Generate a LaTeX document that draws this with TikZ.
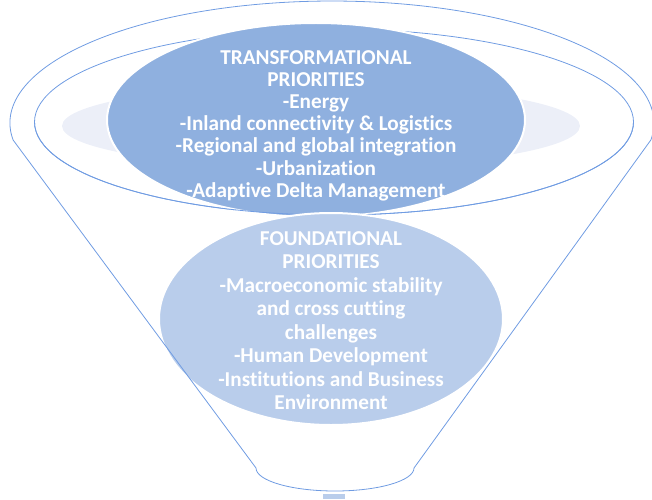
\documentclass[tikz,border=0pt]{standalone}
\usepackage{fontspec}
\setmainfont{Carlito}[Ligatures=CommonOff]
\usetikzlibrary{shapes.geometric}
\definecolor{rimBlue}{RGB}{112,156,226}
\definecolor{topBlue}{RGB}{143,176,223}
\definecolor{baseBlue}{RGB}{185,205,235}
\definecolor{glowGrey}{RGB}{236,239,248}
\tikzset{fnlRim/.style={draw=rimBlue,line width=0.8pt},
 fnlDisc/.style={ellipse,draw=white,line width=2pt,inner sep=0pt},
 fnlText/.style={text=white,font=\bfseries\fontsize{21.2}{22.2}\selectfont,align=center,inner sep=0pt}}

\begin{document}
\begin{tikzpicture}[x=1pt,y=1pt]
\useasboundingbox (0,0) rectangle (652,499);
% soft glow behind the top disc
\node[ellipse,fill=glowGrey,minimum width=518pt,minimum height=84pt,inner sep=0pt] (glow) at (321,373) {};
% inner rim of the funnel mouth
\draw[fnlRim] (334,377) ellipse[x radius=299.5,y radius=93];
\node[fnlDisc,fill=topBlue,minimum width=418pt,minimum height=194pt] (topDisc) at (316,379) {};
\draw[fnlRim] (34.5,377) arc[start angle=180,end angle=360,x radius=299.5,y radius=93];
\node[fnlDisc,fill=baseBlue,minimum width=344pt,minimum height=212pt] (baseDisc) at (331,180) {};
% funnel body
\draw[fnlRim] (13.1,359) arc[start angle=188,end angle=-8,x radius=322,y radius=122]
 -- (414,31) arc[start angle=0,end angle=-180,x radius=79,y radius=23] -- cycle;
\fill[baseBlue] (323,0) rectangle (345,5);
\node[fnlText] (topText) at (316,373.5) {TRANSFORMATIONAL\\PRIORITIES\\-Energy\\-Inland connectivity \& Logistics\\-Regional and global integration\\-Urbanization\\-Adaptive Delta Management};
\node[fnlText,font=\bfseries\fontsize{21.2}{23.5}\selectfont] (baseText) at (331,178.5) {FOUNDATIONAL\\PRIORITIES\\-Macroeconomic stability\\and cross cutting\\challenges\\-Human Development\\-Institutions and Business\\Environment};
\end{tikzpicture}
\end{document}
